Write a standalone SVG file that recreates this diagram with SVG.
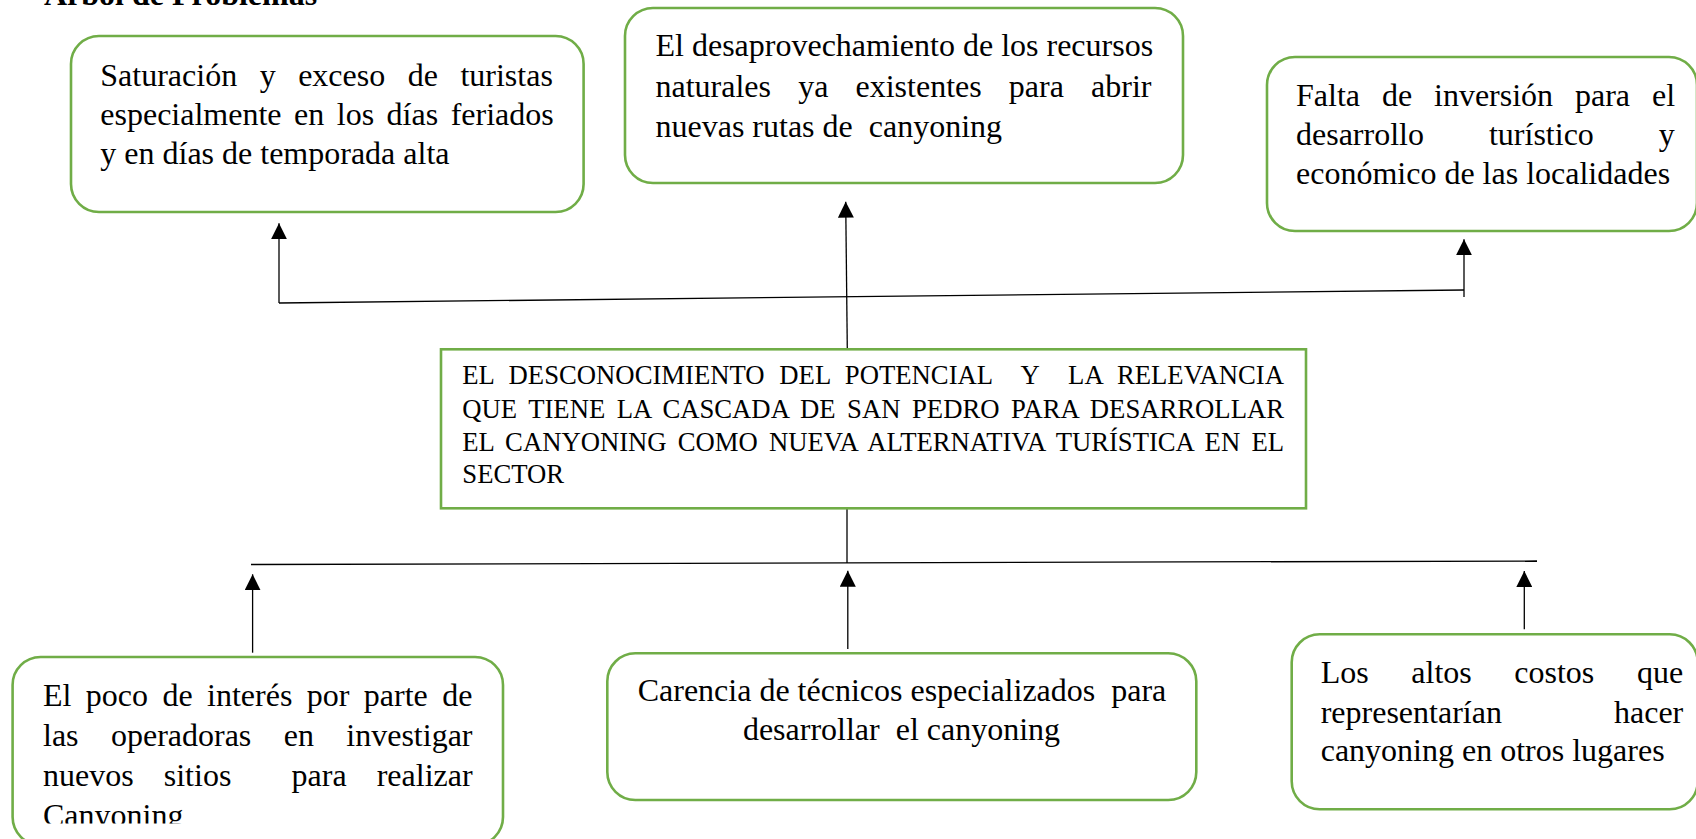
<svg xmlns="http://www.w3.org/2000/svg" width="1696" height="839" viewBox="0 0 1696 839">
  <style>
    .box { fill: #ffffff; stroke: #70AD47; stroke-width: 2.6; }
    .t { font-family: "Liberation Serif", "Times New Roman", serif; font-size: 32px; fill: #000; white-space: pre; }
    .c { font-family: "Liberation Serif", "Times New Roman", serif; font-size: 26.7px; fill: #000; white-space: pre; }
    .title { font-family: "Liberation Serif", "Times New Roman", serif; font-size: 32px; font-weight: bold; fill: #000; }
    .ln { stroke: #000; stroke-width: 1.3; fill: none; }
    .arr { stroke: #000; stroke-width: 1.3; fill: none; marker-end: url(#ah); }
  </style>
  <defs>
    <marker id="ah" markerUnits="userSpaceOnUse" markerWidth="16" markerHeight="16" refX="15" refY="7.5" orient="auto" viewBox="0 0 15 15">
      <path d="M0,0 L15,7.5 L0,15 Z" fill="#000"/>
    </marker>
    <clipPath id="clip4">
      <rect x="0" y="640" width="520" height="183.5"/>
    </clipPath>
  </defs>
  <rect width="1696" height="839" fill="#ffffff"/>

  <text class="title" x="44" y="5">Árbol de Problemas</text>

  <g id="connectors">
    <!-- top tree -->
    <line class="arr" x1="847.3" y1="350" x2="845.7" y2="201.7"/>
    <line class="ln" x1="279" y1="303" x2="1464" y2="290"/>
    <line class="arr" x1="279" y1="303" x2="279" y2="223.3"/>
    <line class="arr" x1="1464" y1="297" x2="1464" y2="239.3"/>
    <!-- bottom tree -->
    <line class="ln" x1="847" y1="509" x2="847" y2="563"/>
    <line class="ln" x1="251" y1="564.5" x2="1537" y2="561"/>
    <line class="arr" x1="252.6" y1="652.7" x2="252.6" y2="574.3"/>
    <line class="arr" x1="847.8" y1="649" x2="847.8" y2="570.7"/>
    <line class="arr" x1="1524.3" y1="629.3" x2="1524.3" y2="571"/>
  </g>

  <g id="effect1">
    <rect class="box" x="71" y="36" width="512.6" height="176" rx="28" ry="28"/>
    <text class="t" x="100.3" y="86" word-spacing="14.5">Saturación y exceso de turistas</text>
    <text class="t" x="100.3" y="125" word-spacing="4.5">especialmente en los días feriados</text>
    <text class="t" x="100.3" y="164">y en días de temporada alta</text>
  </g>

  <g id="effect2">
    <rect class="box" x="625" y="8" width="558" height="175" rx="28" ry="28"/>
    <text class="t" x="655.5" y="56">El desaprovechamiento de los recursos</text>
    <text class="t" x="655.5" y="96.7" word-spacing="19.15">naturales ya existentes para abrir</text>
    <text class="t" x="655.5" y="137.3">nuevas rutas de  canyoning</text>
  </g>

  <g id="effect3">
    <rect class="box" x="1267" y="57" width="430" height="174" rx="28" ry="28"/>
    <text class="t" x="1296" y="106" word-spacing="13.9">Falta de inversión para el</text>
    <text class="t" x="1296" y="145" word-spacing="57">desarrollo turístico y</text>
    <text class="t" x="1296" y="184">económico de las localidades</text>
  </g>

  <g id="problem">
    <rect class="box" x="441" y="349.3" width="865" height="159"/>
    <text class="c" x="462.3" y="384.3" word-spacing="8" textLength="821.7" lengthAdjust="spacing">EL DESCONOCIMIENTO DEL POTENCIAL  Y  LA RELEVANCIA</text>
    <text class="c" x="462.3" y="417.7" word-spacing="4.9" textLength="821.7" lengthAdjust="spacing">QUE TIENE LA CASCADA DE SAN PEDRO PARA DESARROLLAR</text>
    <text class="c" x="462.3" y="451" word-spacing="4.6" textLength="821.7" lengthAdjust="spacing">EL CANYONING COMO NUEVA ALTERNATIVA TURÍSTICA EN EL</text>
    <text class="c" x="462.3" y="483.3">SECTOR</text>
  </g>

  <g id="cause1">
    <rect class="box" x="12.6" y="657" width="490.4" height="188" rx="28" ry="28"/>
    <g clip-path="url(#clip4)">
      <text class="t" x="43" y="705.7" word-spacing="6.4">El poco de interés por parte de</text>
      <text class="t" x="43" y="745.7" word-spacing="24.4">las operadoras en investigar</text>
      <text class="t" x="43" y="785.7" word-spacing="22.1">nuevos sitios  para realizar</text>
      <text class="t" x="43" y="825.7">Canyoning</text>
    </g>
  </g>

  <g id="cause2">
    <rect class="box" x="607.3" y="653.3" width="589" height="146.7" rx="28" ry="28"/>
    <text class="t" x="902" y="700.7" text-anchor="middle">Carencia de técnicos especializados  para</text>
    <text class="t" x="901.5" y="740" text-anchor="middle">desarrollar  el canyoning</text>
  </g>

  <g id="cause3">
    <rect class="box" x="1291.7" y="634.3" width="406" height="175" rx="28" ry="28"/>
    <text class="t" x="1320.7" y="683.3" word-spacing="34.6">Los altos costos que</text>
    <text class="t" x="1320.7" y="722.7" word-spacing="104.1">representarían hacer</text>
    <text class="t" x="1320.7" y="760.7">canyoning en otros lugares</text>
  </g>
</svg>
